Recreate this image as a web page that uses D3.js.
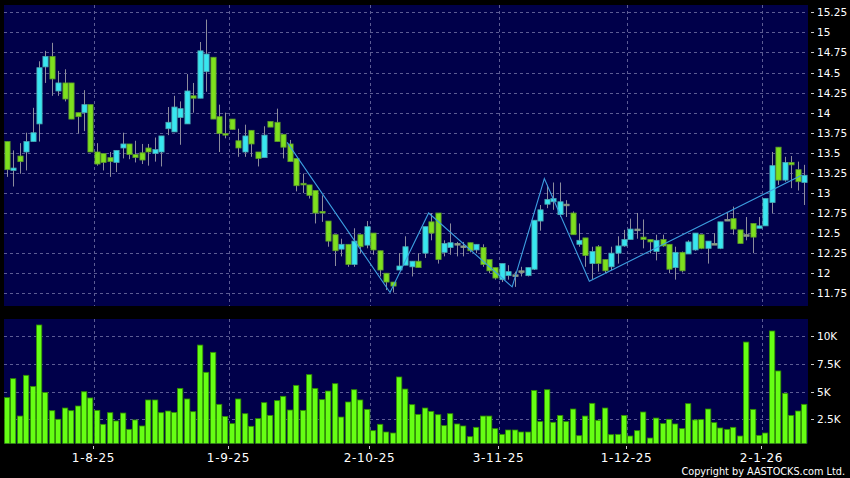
<!DOCTYPE html>
<html><head><meta charset="utf-8">
<script src="https://cdn.jsdelivr.net/npm/d3@7/dist/d3.min.js"></script>
<style>html,body{margin:0;padding:0;background:#000;}svg{display:block;}</style>
</head><body>
<svg id="chart" width="850" height="478"></svg>
<script>
// ---- data ----
const open  = [13.64,13.28,13.46,13.51,13.64,13.86,14.57,14.70,14.27,14.37,14.37,14.00,14.00,14.10,13.51,13.49,13.44,13.38,13.56,13.61,13.48,13.50,13.56,13.49,13.51,13.80,13.76,13.94,13.86,14.21,14.18,14.51,14.69,13.95,13.74,13.92,13.65,13.51,13.78,13.51,13.44,13.89,13.88,13.73,13.61,13.43,13.12,13.10,13.03,12.77,12.65,12.48,12.30,12.36,12.11,12.48,12.35,12.50,12.28,12.00,11.89,12.04,12.10,12.08,12.15,12.25,12.64,12.75,12.26,12.32,12.37,12.34,12.38,12.29,12.32,12.17,12.07,11.92,11.97,11.98,12.03,11.97,12.05,12.65,12.86,12.89,12.73,12.86,12.75,12.36,12.44,12.12,12.33,12.17,12.08,12.25,12.34,12.42,12.55,12.45,12.42,12.27,12.42,12.36,12.07,12.26,12.24,12.29,12.48,12.31,12.37,12.31,12.67,12.68,12.54,12.48,12.62,12.56,12.59,12.88,13.57,13.16,13.38,13.29,13.13];
const high  = [13.64,13.53,13.62,13.75,14.06,14.64,14.77,14.87,14.52,14.54,14.37,14.00,14.28,14.10,13.62,13.49,13.51,13.53,13.75,13.61,13.65,13.61,13.61,13.69,13.71,14.07,14.21,14.14,14.48,14.37,14.88,15.16,14.69,14.10,14.00,13.92,13.80,13.85,13.78,13.51,13.83,13.89,14.05,13.73,13.66,13.43,13.24,13.10,13.03,12.97,12.65,12.48,12.43,12.36,12.56,12.48,12.65,12.50,12.28,12.00,11.89,12.25,12.46,12.15,12.25,12.58,12.75,12.75,12.41,12.62,12.39,12.39,12.38,12.36,12.36,12.17,12.07,12.12,12.10,12.02,12.08,12.07,12.66,12.85,13.10,13.13,13.13,12.91,12.77,12.62,12.44,12.33,12.35,12.17,12.33,12.46,12.54,12.68,12.75,12.67,12.42,12.48,12.48,12.36,12.33,12.27,12.41,12.50,12.48,12.40,12.50,12.64,12.75,12.83,12.54,12.70,12.62,12.70,12.93,13.51,13.57,13.45,13.46,13.39,13.35];
const low   = [13.20,13.08,13.24,13.28,13.64,13.64,14.37,14.21,14.21,14.14,13.92,13.74,13.77,13.51,13.34,13.28,13.20,13.26,13.43,13.42,13.38,13.36,13.34,13.39,13.33,13.72,13.76,13.60,13.86,14.00,14.18,14.26,13.92,13.51,13.68,13.79,13.45,13.45,13.45,13.33,13.44,13.82,13.64,13.43,13.39,13.02,13.00,12.93,12.62,12.64,12.33,12.09,12.21,12.08,12.08,12.25,12.31,12.23,11.96,11.79,11.76,12.04,12.10,11.96,12.07,12.19,12.41,12.12,12.21,12.23,12.21,12.21,12.26,12.25,12.08,12.00,11.92,11.89,11.92,11.83,11.96,11.96,12.04,12.53,12.81,12.79,12.70,12.70,12.48,12.33,12.08,11.92,12.02,12.00,12.04,12.12,12.33,12.42,12.43,12.31,12.25,12.16,12.33,12.00,11.92,12.01,12.24,12.28,12.30,12.12,12.37,12.30,12.67,12.48,12.37,12.41,12.25,12.56,12.59,12.75,13.10,13.14,13.06,13.03,12.85];
const close = [13.29,13.31,13.39,13.64,13.75,14.56,14.70,14.42,14.37,14.17,13.92,13.95,14.10,13.51,13.36,13.38,13.39,13.53,13.61,13.48,13.44,13.41,13.51,13.54,13.71,13.88,14.07,14.05,14.27,14.18,14.77,14.73,13.92,13.74,13.72,13.79,13.56,13.71,13.61,13.43,13.72,13.82,13.64,13.57,13.39,13.09,13.10,12.97,12.75,12.76,12.40,12.28,12.36,12.11,12.40,12.33,12.58,12.29,12.04,11.89,11.84,12.09,12.33,12.15,12.07,12.58,12.50,12.17,12.37,12.38,12.37,12.34,12.28,12.36,12.11,12.03,11.94,12.12,12.02,11.98,12.03,12.07,12.66,12.79,12.92,12.93,12.89,12.86,12.48,12.41,12.22,12.27,12.12,12.03,12.25,12.34,12.42,12.55,12.55,12.42,12.39,12.41,12.34,12.05,12.26,12.03,12.39,12.50,12.31,12.40,12.37,12.64,12.67,12.55,12.37,12.48,12.45,12.59,12.93,13.34,13.16,13.38,13.35,13.14,13.22];
const volumeK = [4.45,6.15,2.80,6.45,5.46,10.96,4.92,3.28,2.51,3.52,3.28,3.70,4.98,4.42,3.31,2.06,3.10,2.36,3.07,1.61,2.45,1.91,4.24,4.24,3.10,3.25,3.13,5.28,4.33,3.19,9.16,6.72,8.51,3.85,2.77,2.12,4.33,3.01,1.88,2.57,4.00,2.86,4.18,
  4.57,3.34,5.55,3.31,6.51,5.28,4.27,5.04,5.70,2.71,4.06,5.16,4.24,3.40,1.49,2.06,1.37,1.28,6.30,5.22,3.82,2.95,3.52,3.22,2.92,1.94,3.01,2.09,1.91,0.95,1.79,2.80,2.80,1.67,1.16,1.55,1.55,1.37,1.37,5.10,2.30,5.16,
  2.24,2.86,2.30,3.43,1.04,2.80,3.94,2.42,3.52,1.13,1.16,2.86,1.01,1.49,3.16,0.83,2.62,2.12,2.51,2.09,1.67,3.91,2.45,2.48,3.43,2.21,1.73,1.61,1.79,1.01,9.43,3.40,1.07,1.28,10.42,6.84,4.84,2.86,3.25,3.85];
const zigIndex = [44, 60, 66, 79, 84, 91, 124];
const zigPrice = [13.63, 11.76, 12.75, 11.83, 13.18, 11.90, 13.22];
const monthTickIndex  = [13, 34, 56, 76, 96, 117];
const monthTickLabels = ["1-8-25", "1-9-25", "2-10-25", "3-11-25", "1-12-25", "2-1-26"];
const priceTicks  = [11.75,12,12.25,12.5,12.75,13,13.25,13.5,13.75,14,14.25,14.5,14.75,15,15.25];
const volumeTicks = [2.5, 5, 7.5, 10];
const volumeTickLabels = ["2.5K", "5K", "7.5K", "10K"];
const copyright = "Copyright by AASTOCKS.com Ltd.";

// ---- layout ----
const svg = d3.select("#chart");
const P = {x0: 4, x1: 808, y0: 5, y1: 306};
const V = {y0: 319, y1: 443.5};
const n = close.length;
const x = d3.scaleLinear().domain([0, n - 1]).range([6.8, 804]);
const step = x(1) - x(0);
const yP = d3.scaleLinear().domain([11.75, 15.25]).range([293.3, 12.3]);
const yV = d3.scaleLinear().domain([0, 10]).range([447.3, 335.7]);

const panelFill = "#00004a";
const gridColor = "#5c5c94";
const font = "DejaVu Sans, Verdana, sans-serif";

svg.append("rect").attr("width", 850).attr("height", 478).attr("fill", "#000");
svg.append("rect").attr("x", P.x0).attr("y", P.y0).attr("width", P.x1 - P.x0).attr("height", P.y1 - P.y0).attr("fill", panelFill);
svg.append("rect").attr("x", P.x0).attr("y", V.y0).attr("width", P.x1 - P.x0).attr("height", V.y1 - V.y0).attr("fill", panelFill);

svg.append("clipPath").attr("id", "clipP").append("rect")
  .attr("x", P.x0).attr("y", P.y0).attr("width", P.x1 - P.x0).attr("height", P.y1 - P.y0);
svg.append("clipPath").attr("id", "clipV").append("rect")
  .attr("x", P.x0).attr("y", V.y0).attr("width", P.x1 - P.x0).attr("height", V.y1 - V.y0);

const gridG = svg.append("g").attr("stroke", gridColor).attr("stroke-width", 1).attr("stroke-dasharray", "3,3").attr("fill", "none");
gridG.selectAll("line.hp").data(priceTicks).join("line")
  .attr("x1", P.x0).attr("x2", P.x1)
  .attr("y1", d => Math.round(yP(d)) + 0.5).attr("y2", d => Math.round(yP(d)) + 0.5);
gridG.selectAll("line.hv").data(volumeTicks).join("line")
  .attr("x1", P.x0).attr("x2", P.x1)
  .attr("y1", d => Math.round(yV(d)) + 0.5).attr("y2", d => Math.round(yV(d)) + 0.5);
monthTickIndex.forEach(i => {
  const gx = Math.round(x(i) + step / 2) + 0.5;
  gridG.append("line").attr("x1", gx).attr("x2", gx).attr("y1", P.y0).attr("y2", P.y1);
  gridG.append("line").attr("x1", gx).attr("x2", gx).attr("y1", V.y0).attr("y2", V.y1);
});

// ---- candles ----
const candles = d3.range(n).map(i => ({i, o: open[i], h: high[i], l: low[i], c: close[i]}));
const cg = svg.append("g").attr("clip-path", "url(#clipP)");
const bw = 5.2;
cg.selectAll("line.wick").data(candles).join("line")
  .attr("x1", d => Math.round(x(d.i)) + 0.5).attr("x2", d => Math.round(x(d.i)) + 0.5)
  .attr("y1", d => yP(d.h)).attr("y2", d => yP(d.l))
  .attr("stroke", "#8c8c9c").attr("stroke-width", 1);
cg.selectAll("rect.body").data(candles).join("rect")
  .attr("x", d => Math.round(x(d.i)) - bw / 2 + 0.5)
  .attr("width", bw)
  .attr("y", d => yP(Math.max(d.o, d.c)))
  .attr("height", d => Math.max(1.6, Math.abs(yP(d.o) - yP(d.c))))
  .attr("fill", d => d.c > d.o ? "#38e6f0" : (d.c < d.o ? "#7ee01e" : "#8c9c7c"))
  .attr("stroke", d => d.c > d.o ? "#4aa6b0" : (d.c < d.o ? "#5c9a2a" : "#8c9c8c"))
  .attr("stroke-width", 0.8);

const zig = zigIndex.map((d, k) => [x(d) - 2.5, yP(zigPrice[k])]);
cg.append("path").attr("d", d3.line()(zig)).attr("fill", "none")
  .attr("stroke", "#3c9ee0").attr("stroke-width", 1.1);

// ---- volume ----
const vg = svg.append("g").attr("clip-path", "url(#clipV)");
vg.selectAll("rect.vol").data(volumeK).join("rect")
  .attr("x", (d, i) => Math.round(x(i)) - 2.6)
  .attr("width", 5.4)
  .attr("y", d => yV(d))
  .attr("height", d => yV(0) - yV(d))
  .attr("fill", "#66ff14").attr("stroke", "#2f8a00").attr("stroke-width", 0.8);

// ---- right axes ----
const axG = svg.append("g").attr("font-family", font).attr("font-size", 10.5).attr("fill", "#fff");
priceTicks.forEach(t => {
  const yy = Math.round(yP(t)) + 0.5;
  axG.append("line").attr("x1", 811).attr("x2", 814).attr("y1", yy).attr("y2", yy).attr("stroke", "#ccc");
  axG.append("text").attr("x", 817).attr("y", yy).attr("dy", "0.36em").text(d3.format("")(t));
});
volumeTicks.forEach((t, k) => {
  const yy = Math.round(yV(t)) + 0.5;
  axG.append("line").attr("x1", 811).attr("x2", 814).attr("y1", yy).attr("y2", yy).attr("stroke", "#ccc");
  axG.append("text").attr("x", 817).attr("y", yy).attr("dy", "0.36em").text(volumeTickLabels[k]);
});

// ---- date axis ----
const dG = svg.append("g").attr("font-family", font).attr("font-size", 12).attr("fill", "#fff");
monthTickIndex.forEach((i, k) => {
  const gx = Math.round(x(i) + step / 2) - 0.5;
  dG.append("line").attr("x1", gx).attr("x2", gx).attr("y1", 446).attr("y2", 449).attr("stroke", "#ccc");
  dG.append("text").attr("x", gx).attr("y", 462).attr("text-anchor", "middle")
    .attr("letter-spacing", 0.7).text(monthTickLabels[k]);
});

svg.append("text").attr("x", 845).attr("y", 475).attr("text-anchor", "end")
  .attr("font-family", "DejaVu Sans Condensed, DejaVu Sans, sans-serif").attr("font-size", 10.8)
  .attr("fill", "#fff").text(copyright);
</script>
</body></html>
